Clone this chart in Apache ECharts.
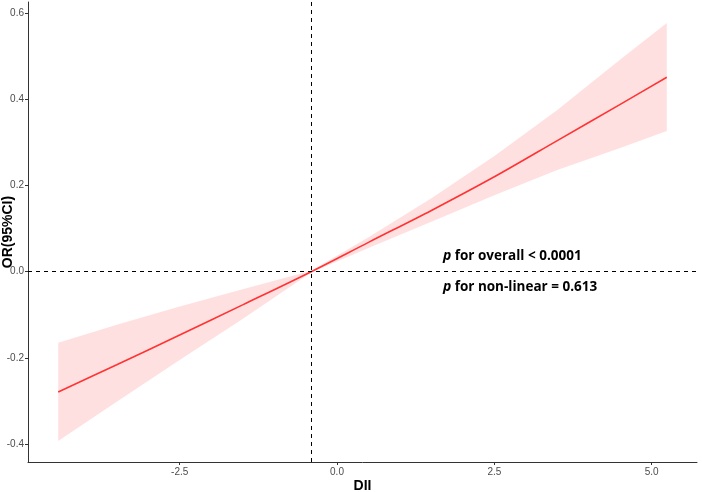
<!DOCTYPE html>
<html>
<head>
<meta charset="utf-8">
<script src="https://cdn.jsdelivr.net/npm/echarts@6/dist/echarts.min.js"></script>
<style>html,body{margin:0;padding:0;background:#fff;}#chart{width:702px;height:492px;}</style>
</head>
<body>
<div id="chart"></div>
<script>
// Data
const dii   = [-4.43, -3.5, -2.5, -1.5, -0.41, 0.5, 1.5, 2.5, 3.5, 4.5, 5.24];
const orFit = [-0.279, -0.216, -0.147, -0.077, 0.0, 0.068, 0.142, 0.220, 0.304, 0.388, 0.451];
const ciLow = [-0.393, -0.302, -0.205, -0.110, -0.002, 0.055, 0.116, 0.177, 0.236, 0.287, 0.326];
const ciUp  = [-0.165, -0.123, -0.081, -0.041, 0.002, 0.080, 0.170, 0.268, 0.375, 0.492, 0.577];
const xTicks = [-2.5, 0.0, 2.5, 5.0];
const yTicks = [-0.4, -0.2, 0.0, 0.2, 0.4, 0.6];
const refX = -0.41;
const refY = 0;
const annotations = ['for overall < 0.0001', 'for non-linear = 0.613'];

const chart = echarts.init(document.getElementById('chart'));
const labelStyle = {color: '#4d4d4d', fontSize: 10, fontFamily: 'Liberation Sans, Arial, sans-serif'};
const option = {
  animation: false,
  grid: {left: 28, right: 5, top: 2, bottom: 30, containLabel: false, outerBoundsMode: 'none'},
  xAxis: {
    type: 'value', min: -4.91, max: 5.72,
    name: 'DII', nameLocation: 'middle', nameGap: 17, nameMoveOverlap: false,
    nameTextStyle: {fontSize: 14, fontWeight: 'bold', color: '#000', fontFamily: 'Liberation Sans, Arial, sans-serif'},
    splitLine: {show: false},
    axisLine: {onZero: false, lineStyle: {color: '#333', width: 1}},
    axisTick: {customValues: xTicks, length: 3, lineStyle: {color: '#333'}},
    axisLabel: Object.assign({customValues: xTicks, margin: 5, formatter: v => v.toFixed(1)}, labelStyle)
  },
  yAxis: {
    type: 'value', min: -0.4415, max: 0.6255,
    name: 'OR(95%CI)', nameLocation: 'middle', nameGap: 13, nameRotate: 90, nameMoveOverlap: false,
    nameTextStyle: {fontSize: 14, fontWeight: 'bold', color: '#000', fontFamily: 'Liberation Sans, Arial, sans-serif'},
    splitLine: {show: false},
    axisLine: {onZero: false, lineStyle: {color: '#333', width: 1}},
    axisTick: {customValues: yTicks, length: 3, lineStyle: {color: '#333'}},
    axisLabel: Object.assign({customValues: yTicks, margin: 4, formatter: v => v.toFixed(1)}, labelStyle)
  },
  series: [
    {
      type: 'custom',
      data: [[dii[0], ciLow[0]]],
      z: 1,
      renderItem: function (params, api) {
        const pts = [];
        for (let i = 0; i < dii.length; i++) pts.push(api.coord([dii[i], ciUp[i]]));
        for (let i = dii.length - 1; i >= 0; i--) pts.push(api.coord([dii[i], ciLow[i]]));
        return {type: 'polygon', shape: {points: pts}, style: {fill: 'rgba(255,0,0,0.12)', stroke: null}};
      },
      silent: true
    },
    {
      type: 'line',
      data: dii.map((x, i) => [x, orFit[i]]),
      symbol: 'none', smooth: 0.3,
      lineStyle: {color: '#ff3333', width: 1.6},
      z: 3,
      markLine: {
        silent: true, symbol: 'none', label: {show: false},
        lineStyle: {color: '#000', type: [4, 4], width: 1},
        data: [{xAxis: refX}, {yAxis: refY}]
      }
    }
  ],
  graphic: [
    {type: 'text', left: 443, top: 249, style: {
      text: '{i|p} {b|' + annotations[0] + '}',
      rich: {i: {fontStyle: 'italic', fontWeight: 'bold', fontSize: 14, fontFamily: 'Open Sans', fill: '#000'},
             b: {fontWeight: 'bold', fontSize: 13.5, fontFamily: 'Open Sans', fill: '#000'}}}},
    {type: 'text', left: 443, top: 280, style: {
      text: '{i|p} {b|' + annotations[1] + '}',
      rich: {i: {fontStyle: 'italic', fontWeight: 'bold', fontSize: 14, fontFamily: 'Open Sans', fill: '#000'},
             b: {fontWeight: 'bold', fontSize: 13.5, fontFamily: 'Open Sans', fill: '#000'}}}}
  ]
};
chart.setOption(option);
</script>
</body>
</html>
